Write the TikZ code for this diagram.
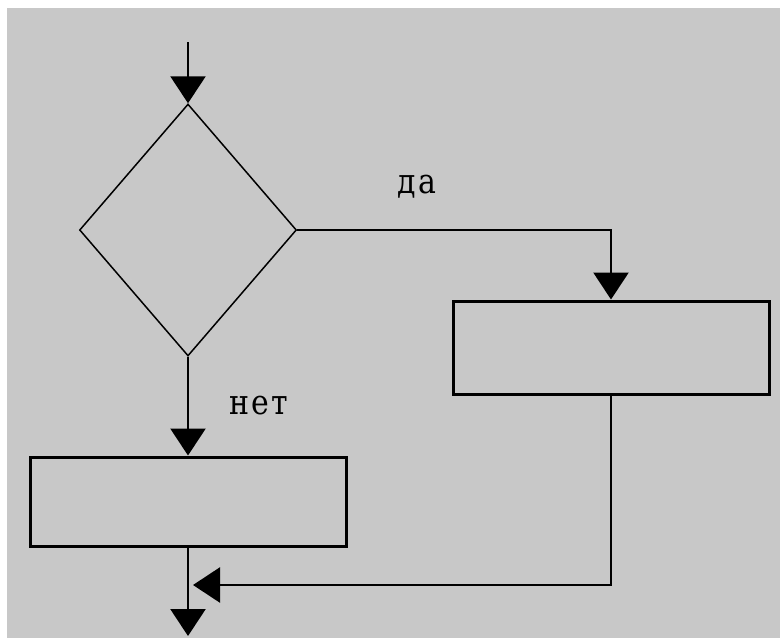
\documentclass[tikz,border=0pt]{standalone}
\usepackage{fontspec}
\newfontfamily\labelfont[LetterSpace=8]{DejaVu Serif}
\usetikzlibrary{arrows.meta,shapes.geometric}
\definecolor{bggray}{RGB}{200,200,200}
\tikzset{
  flowbox/.style={draw=black,line width=3pt,rectangle,inner sep=0pt},
  decision/.style={draw=black,line width=1.5pt,diamond,inner sep=0pt},
  conn/.style={draw=black,line width=2.5pt,-{Triangle[width=35pt,length=27pt]}},
  lbl/.style={anchor=base west,inner sep=0pt,font=\labelfont\fontsize{30}{30}\selectfont,yscale=1.15}
}
\begin{document}
\begin{tikzpicture}[x=1pt,y=-1pt]
\useasboundingbox (0,0) rectangle (780,638);
\fill[white] (0,0) rectangle (780,638);
\fill[bggray] (7,8) rectangle (780,638);
\coordinate (start) at (188,42);
\node[decision,minimum width=217pt,minimum height=252pt] (dec) at (188,230) {};
\node[flowbox,minimum width=316pt,minimum height=93pt] (yesbox) at (611,347.5) {};
\node[flowbox,minimum width=316pt,minimum height=89pt] (nobox) at (188,501.5) {};
\coordinate (joinpt) at (193,585);
\coordinate (finish) at (188,636);
\node[lbl] (yes) at (397,193) {да};
\node[lbl] (no) at (229,414) {нет};
\draw[conn] (start) -- (dec.north);
\draw[conn] (dec.east) -| (yesbox.north);
\draw[conn] (dec.south) -- (nobox.north);
\draw[conn] (yesbox.south) |- (joinpt);
\draw[conn] (nobox.south) -- (finish);
\end{tikzpicture}
\end{document}
